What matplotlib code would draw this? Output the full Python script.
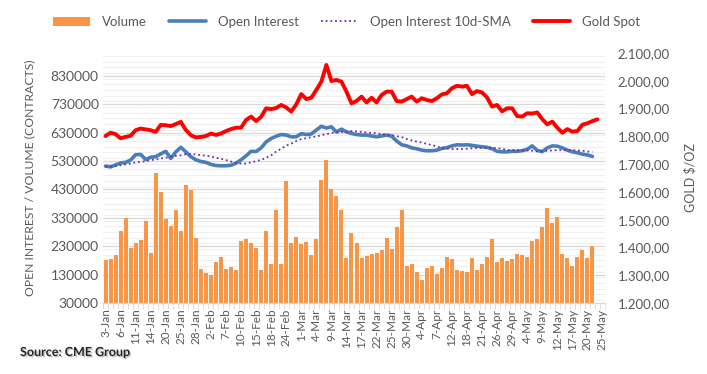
import numpy as np
import matplotlib
matplotlib.use("Agg")
import matplotlib.pyplot as plt
from matplotlib.ticker import FixedLocator, MultipleLocator, FuncFormatter
import matplotlib.patheffects as pe

plt.rcParams["font.family"] = ["Lato", "DejaVu Sans"]

# every third trading day gets a label (100 categories, 3-Jan .. 25-May)
tick_labels = ["3-Jan", "6-Jan", "11-Jan", "14-Jan", "20-Jan", "25-Jan", "28-Jan",
               "2-Feb", "7-Feb", "10-Feb", "15-Feb", "18-Feb", "24-Feb", "1-Mar",
               "4-Mar", "9-Mar", "14-Mar", "17-Mar", "22-Mar", "25-Mar", "30-Mar",
               "4-Apr", "7-Apr", "12-Apr", "18-Apr", "21-Apr", "26-Apr", "29-Apr",
               "4-May", "9-May", "12-May", "17-May", "20-May", "25-May"]
n_days = 100

# volume, thousands of contracts
volume = [180, 185, 198, 283, 328, 223, 240, 252, 318, 205, 489, 420, 325, 300, 357, 283, 445, 427, 259, 148,
          134, 128, 175, 192, 148, 157, 145, 250, 255, 240, 222, 145, 282, 166, 359, 166, 458, 240, 261, 236,
          243, 199, 255, 462, 535, 433, 405, 359, 187, 275, 240, 187, 194, 201, 205, 215, 259, 219, 297, 356,
          160, 169, 138, 110, 152, 160, 131, 152, 191, 184, 145, 141, 138, 187, 145, 166, 191, 254, 173, 187,
          177, 184, 201, 198, 191, 247, 254, 296, 363, 310, 331, 201, 187, 162, 191, 215, 187, 229]

# open interest, thousands of contracts
open_interest = [512, 509, 516, 523, 525, 533, 552, 553, 535, 543, 545, 555, 564, 539, 562, 578, 562, 545, 534, 528,
                 525, 518, 514, 513, 513, 515, 522, 534, 548, 564, 563, 576, 597, 609, 617, 623, 621, 615, 615, 626,
                 623, 625, 639, 652, 646, 650, 632, 642, 632, 627, 623, 621, 621, 618, 615, 618, 621, 617, 600, 587,
                 583, 576, 573, 568, 566, 566, 568, 574, 577, 583, 587, 586, 587, 585, 582, 580, 578, 573, 564, 562,
                 562, 564, 564, 566, 571, 583, 567, 563, 576, 583, 582, 576, 568, 562, 559, 554, 551, 546]

# 10-day SMA of open interest, thousands
oi_sma = [509, 510, 512, 515, 518, 521, 525, 527, 529, 533, 535, 539, 541, 545, 548, 550, 554, 554, 553, 550,
          549, 546, 541, 538, 533, 528, 524, 521, 521, 525, 529, 534, 541, 550, 563, 573, 584, 591, 600, 607,
          610, 614, 616, 621, 624, 629, 631, 632, 634, 635, 634, 632, 630, 629, 627, 624, 622, 621, 617, 614,
          607, 602, 598, 595, 590, 586, 581, 576, 574, 572, 572, 572, 573, 575, 576, 577, 577, 576, 575, 573,
          569, 568, 568, 568, 567, 566, 564, 564, 566, 567, 568, 568, 568, 568, 567, 566, 563, 562]

# gold spot, $/oz
gold = [1801, 1813, 1808, 1793, 1798, 1802, 1822, 1828, 1825, 1822, 1816, 1841, 1840, 1837, 1844, 1852, 1823, 1804, 1796, 1798,
        1801, 1810, 1805, 1810, 1819, 1826, 1831, 1831, 1859, 1871, 1855, 1870, 1901, 1898, 1902, 1913, 1904, 1889, 1915, 1952,
        1934, 1939, 1967, 1997, 2057, 1999, 2003, 1997, 1961, 1919, 1927, 1943, 1922, 1939, 1922, 1949, 1961, 1961, 1927, 1925,
        1934, 1943, 1925, 1937, 1931, 1927, 1937, 1951, 1955, 1973, 1982, 1979, 1982, 1952, 1963, 1958, 1940, 1907, 1913, 1890,
        1901, 1901, 1873, 1871, 1883, 1882, 1886, 1862, 1843, 1853, 1831, 1813, 1826, 1817, 1819, 1842, 1847, 1855, 1861]

TXT = "#595959"

fig = plt.figure(figsize=(7.07, 3.74), dpi=100)
ax = fig.add_axes([103 / 707, 1 - 303 / 374, 502 / 707, 250 / 374])
ax2 = ax.twinx()

vol = np.array(volume) * 1000
oi = np.array(open_interest) * 1000
sma = np.array(oi_sma) * 1000

bars = ax.bar(np.arange(len(vol)), vol, width=0.8, color="#f79646", zorder=2, label="Volume")
l_oi, = ax.plot(np.arange(len(oi)), oi, color="#4a7ebb", lw=2.6, solid_capstyle="round", zorder=3, label="Open Interest")
l_sma, = ax.plot(np.arange(len(sma)), sma, color="#7030a0", lw=1.3, ls=(0, (1, 1.6)), zorder=4, label="Open Interest 10d-SMA")
l_gold, = ax2.plot(np.arange(len(gold)), gold, color="#ff0000", lw=2.8, solid_capstyle="round", zorder=3, label="Gold Spot")

ax.set_xlim(-0.5, n_days - 0.5)
ax.set_ylim(30000, 910000)
ax2.set_ylim(1200, 2100)

ax.yaxis.set_major_locator(FixedLocator(np.arange(30000, 900000, 100000)))
ax.yaxis.set_minor_locator(MultipleLocator(20000))
ax.grid(True, which="major", axis="y", color="#d9d9d9", lw=0.9, zorder=0)
ax.grid(True, which="minor", axis="y", color="#f0f0f0", lw=0.8, zorder=0)
ax.set_axisbelow(True)
ax2.yaxis.set_major_locator(MultipleLocator(100))
ax2.yaxis.set_major_formatter(FuncFormatter(lambda v, p: f"{v:,.2f}".replace(",", "X").replace(".", ",").replace("X", ".")))

ax.set_xticks(np.arange(0, n_days, 3))
ax.set_xticklabels(tick_labels, rotation=90)
ax.set_xticks(np.arange(-0.5, n_days, 1), minor=True)
ax.tick_params(axis="x", which="major", length=0, pad=4, labelsize=8.5, labelcolor=TXT)
ax.tick_params(axis="x", which="minor", length=4, color="#d9d9d9")
ax.tick_params(axis="y", which="both", length=0, labelsize=10, labelcolor=TXT, pad=3)
ax2.tick_params(axis="y", which="both", length=0, labelsize=9.5, labelcolor=TXT, pad=9)

for a in (ax, ax2):
    for s in ("top", "left", "right"):
        a.spines[s].set_visible(False)
    a.spines["bottom"].set_color("#d9d9d9")

ax.set_ylabel("OPEN INTEREST / VOLUME (CONTRACTS)", color=TXT, fontsize=8.7, labelpad=11)
ax2.set_ylabel("GOLD $/OZ", color=TXT, fontsize=9, rotation=90, labelpad=10)

fig.legend([bars, l_oi, l_sma, l_gold],
           ["Volume", "Open Interest", "Open Interest 10d-SMA", "Gold Spot"],
           loc="center", bbox_to_anchor=(0.49, 1 - 22 / 374), ncol=4,
           frameon=False, fontsize=9.5, labelcolor=TXT, handlelength=2.8, columnspacing=1.7,
           handletextpad=0.9)

fig.text(20 / 707, 1 - 352 / 374, "Source: CME Group", fontsize=9, fontweight="bold", color="#262626",
         va="center", path_effects=[pe.SimplePatchShadow(offset=(1, -1), alpha=0.25), pe.Normal()])

fig.savefig("out.png", dpi=100)
